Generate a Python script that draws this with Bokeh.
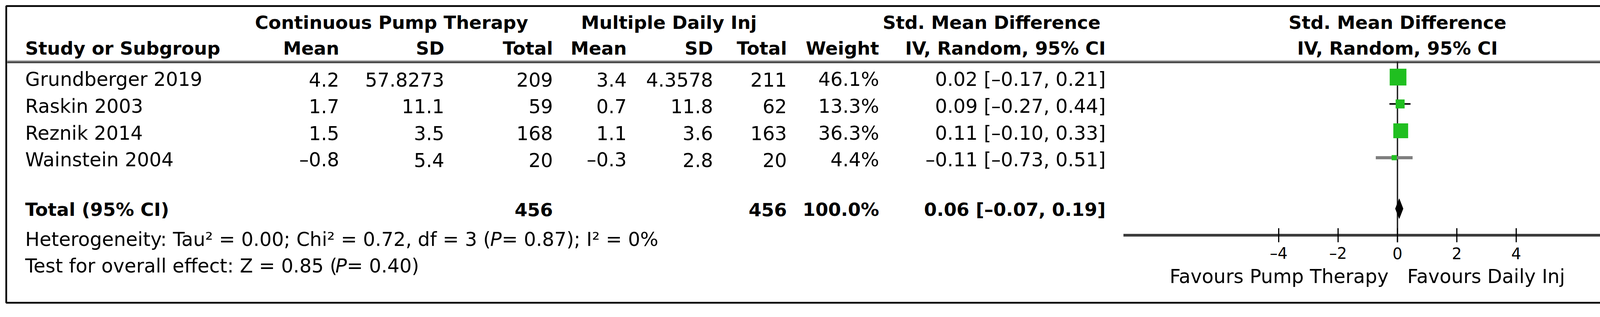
from bokeh.plotting import figure
from bokeh.models import Range1d
from bokeh.embed import file_html
from bokeh.resources import INLINE
from bokeh.core.properties import value

# ---------------- data ----------------
studies = ["Grundberger 2019", "Raskin 2003", "Reznik 2014", "Wainstein 2004"]
pump_mean = [4.2, 1.7, 1.5, -0.8]
pump_sd = [57.8273, 11.1, 3.5, 5.4]
pump_n = [209, 59, 168, 20]
mdi_mean = [3.4, 0.7, 1.1, -0.3]
mdi_sd = [4.3578, 11.8, 3.6, 2.8]
mdi_n = [211, 62, 163, 20]
weights = [46.1, 13.3, 36.3, 4.4]
smd = [0.02, 0.09, 0.11, -0.11]
ci_lo = [-0.17, -0.27, -0.10, -0.73]
ci_hi = [0.21, 0.44, 0.33, 0.51]
total_pump_n = 456
total_mdi_n = 456
total_weight = 100.0
total_smd = 0.06
total_lo = -0.07
total_hi = 0.19
axis_ticks = [-4, -2, 0, 2, 4]
axis_limits = [-9.23, 9.23]
heterogeneity_parts = ["Heterogeneity: Tau\u00b2 = 0.00; Chi\u00b2 = 0.72, df = 3 (", "P", " = 0.87); I\u00b2 = 0%"]
overall_parts = ["Test for overall effect: Z = 0.85 (", "P", " = 0.40)"]
favours_left = "Favours Pump Therapy"
favours_right = "Favours Daily Inj"

# ---------------- layout ----------------
W, H = 4349, 796
X0, Y0 = 8, 8
ZERO_X = 3585.0
PX_PER_UNIT = 76.0
ROW0 = 205.0
ROWSTEP = 68.8
TOTAL_ROW = (542.0 - ROW0) / ROWSTEP
DY = -16.0            # baseline correction for the text renderer
FONT = value("DejaVu Sans")
FS = value("49px")
FSB = value("47px")
FS_TICK = value("40px")
FS_PX = 49.0
ITALIC_SHIFT = -14.0

# DejaVu Sans advance widths (em) used to place the italic P
ADV = {"H": .752, "e": .615, "t": .392, "r": .411, "o": .612, "g": .635, "n": .634, "i": .278,
       "y": .592, ":": .337, " ": .318, "T": .611, "a": .613, "u": .634, "\u00b2": .401, "=": .838,
       "0": .636, "1": .636, "2": .636, "3": .636, "4": .636, "5": .636, "6": .636, "7": .636,
       "8": .636, "9": .636, ".": .318, ";": .337, "C": .698, "h": .634, ",": .318, "d": .635,
       "f": .352, "(": .390, ")": .390, "P": .603, "I": .295, "%": .950, "s": .521, "v": .592,
       "l": .278, "c": .550, "Z": .685}


def text_width(s, px=FS_PX):
    return sum(ADV.get(ch, 0.6) for ch in s) * px


def dash(s):
    return s.replace("-", "\u2013")


def num(v):
    return dash(f"{v:g}")


def ci_text(e, lo, hi):
    return dash(f"{e:.2f} [{lo:.2f}, {hi:.2f}]")


p = figure(
    width=W, height=H,
    x_range=Range1d(X0, X0 + W), y_range=Range1d(Y0 + H, Y0),
    output_backend="svg", toolbar_location=None,
    x_axis_location=None, y_axis_location=None,
    min_border=0, outline_line_color=None, background_fill_color="white",
)
p.grid.visible = False
p.extra_x_ranges = {"smd": Range1d((X0 - ZERO_X) / PX_PER_UNIT, (X0 + W - ZERO_X) / PX_PER_UNIT)}
p.extra_y_ranges = {"row": Range1d((Y0 + H - ROW0) / ROWSTEP, (Y0 - ROW0) / ROWSTEP)}


def txt(xs, ys, texts, align="left", bold=False, size=None, style=None, **kw):
    p.text(x=xs, y=[y + DY for y in ys], text=texts, text_font=FONT,
           text_font_size=size if size is not None else (FSB if bold else FS),
           text_font_style=style if style else ("bold" if bold else "normal"),
           text_align=align, text_baseline="alphabetic", text_color="black", **kw)


# outer frame
p.quad(left=[23.5], right=[4333], top=[23], bottom=[783], fill_color=None,
       line_color="black", line_width=4.5)

# header double rule
p.segment(x0=[26], x1=[4331], y0=[163], y1=[163], line_color="#b4b4b4", line_width=3)
p.segment(x0=[26], x1=[4331], y0=[167], y1=[167], line_color="#4f4f4f", line_width=5)

# headers
H1, H2 = 81, 147
txt([1010, 1720, 2546, ZERO_X], [H1] * 4,
    ["Continuous Pump Therapy", "Multiple Daily Inj", "Std. Mean Difference", "Std. Mean Difference"],
    align="center", bold=True)
txt([72], [H2], ["Study or Subgroup"], bold=True)
col_right = [876, 1145, 1423, 1612, 1833, 2022, 2258, 2838]
txt(col_right, [H2] * 8, ["Mean", "SD", "Total", "Mean", "SD", "Total", "Weight", "IV, Random, 95% CI"],
    align="right", bold=True)
txt([ZERO_X], [H2], ["IV, Random, 95% CI"], align="center", bold=True)

# study rows
ys = [227.0 + ROWSTEP * i for i in range(len(studies))]
txt([72] * len(studies), ys, studies)
columns = [
    [num(v) for v in pump_mean],
    [num(v) for v in pump_sd],
    [str(v) for v in pump_n],
    [num(v) for v in mdi_mean],
    [num(v) for v in mdi_sd],
    [str(v) for v in mdi_n],
    [f"{w:.1f}%" for w in weights],
    [ci_text(e, lo, hi) for e, lo, hi in zip(smd, ci_lo, ci_hi)],
]
for xr, col in zip(col_right, columns):
    txt([xr] * len(col), ys, col, align="right")

# total row
YT = 560
txt([72], [YT], ["Total (95% CI)"], bold=True)
txt([1423, 2022, 2258, 2838], [YT] * 4,
    [str(total_pump_n), str(total_mdi_n), f"{total_weight:.1f}%", ci_text(total_smd, total_lo, total_hi)],
    align="right", bold=True)


def footnote(parts, y):
    x = 72.0
    starts = []
    for part in parts:
        starts.append(x)
        x += text_width(part)
    starts[1] += ITALIC_SHIFT
    starts[2] += ITALIC_SHIFT
    for part, st, x0 in zip(parts, ["normal", "italic", "normal"], starts):
        txt([x0], [y], [part], style=st)


footnote(heterogeneity_parts, 637)
footnote(overall_parts, 705)

# ---------------- forest plot ----------------
# line of no effect
p.segment(x0=[0], x1=[0], y0=[165], y1=[628], x_range_name="smd",
          line_color="#1e1e1e", line_width=3.5)

# confidence intervals
rows = list(range(len(studies)))
ci_colors = ["black", "black", "black", "#7f7f7f"]
ci_widths = [4, 4, 4, 8]
p.segment(x0=ci_lo, x1=ci_hi, y0=rows, y1=rows, x_range_name="smd", y_range_name="row",
          line_color=ci_colors, line_width=ci_widths)

# study squares
sizes = [6.3 * w ** 0.5 for w in weights]
p.scatter(x=smd, y=rows, size=sizes, marker="square", x_range_name="smd", y_range_name="row",
          fill_color="#20bf20", line_color=None)

# pooled diamond
DH = 0.37
p.patch(x=[total_lo, total_smd, total_hi, total_smd],
        y=[TOTAL_ROW, TOTAL_ROW - DH, TOTAL_ROW, TOTAL_ROW + DH],
        x_range_name="smd", y_range_name="row", fill_color="black", line_color="black", line_width=1)

# axis
p.segment(x0=[axis_limits[0]], x1=[axis_limits[1]], y0=[610], y1=[610], x_range_name="smd",
          line_color="#3c3c3c", line_width=7)
p.segment(x0=axis_ticks, x1=axis_ticks, y0=[592] * len(axis_ticks), y1=[628] * len(axis_ticks),
          x_range_name="smd", line_color="black", line_width=3)
txt(axis_ticks, [672] * len(axis_ticks), [dash(str(t)) for t in axis_ticks], align="center",
    size=FS_TICK, x_range_name="smd")
txt([-0.3], [732], [favours_left], align="right", x_range_name="smd")
txt([0.33], [732], [favours_right], align="left", x_range_name="smd")

open("out.html", "w").write(file_html(p, INLINE))
